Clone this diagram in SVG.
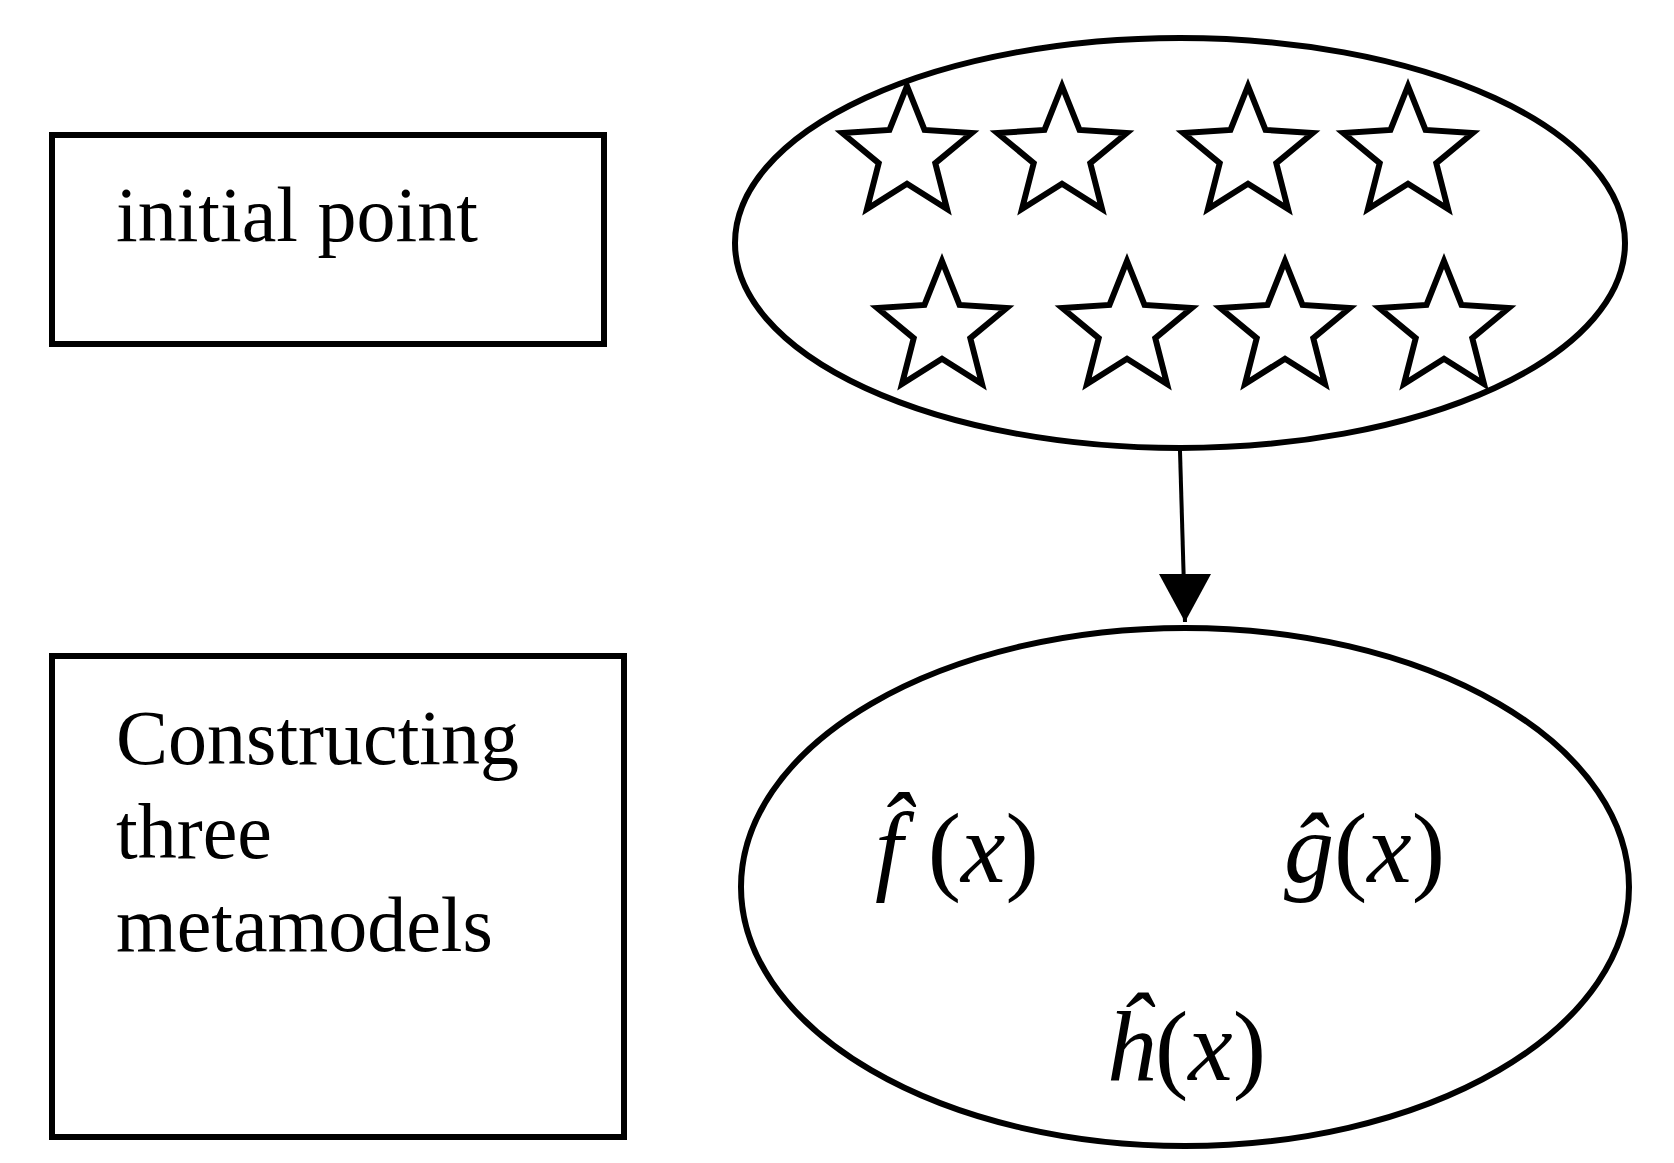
<svg xmlns="http://www.w3.org/2000/svg" xmlns:xlink="http://www.w3.org/1999/xlink" width="1674" height="1163" viewBox="0 0 1674 1163">
<style>
.b{fill:none;stroke:#000;stroke-width:6}
.t{font-family:"Liberation Serif",serif;font-size:78px;fill:#000}
.m{font-family:"Liberation Serif",serif;font-size:100px;fill:#000}
.s{fill:#fff;stroke:#000;stroke-width:6;stroke-linejoin:miter}
</style>
<defs>
<polygon id="star" class="s" points="0,-68 17.5,-24.1 64.7,-21 28.3,9.2 40,55 0,29.7 -40,55 -28.3,9.2 -64.7,-21 -17.5,-24.1"/>
</defs>
<rect width="1674" height="1163" fill="#fff"/>
<g id="n1"><rect class="b" x="52" y="135" width="552" height="209"/><text class="t" x="116" y="241">initial point</text></g>
<g id="n2"><ellipse class="b" cx="1180" cy="243" rx="445" ry="205"/>
<use xlink:href="#star" x="907" y="154"/><use xlink:href="#star" x="1062" y="154"/><use xlink:href="#star" x="1248" y="154"/><use xlink:href="#star" x="1408" y="154"/>
<use xlink:href="#star" x="942" y="329"/><use xlink:href="#star" x="1127" y="329"/><use xlink:href="#star" x="1285" y="329"/><use xlink:href="#star" x="1444" y="329"/>
</g>
<g id="n3"><rect class="b" x="52" y="656" width="572" height="481"/>
<text class="t"><tspan x="116" y="764">Constructing</tspan><tspan x="116" y="858">three</tspan><tspan x="116" y="951">metamodels</tspan></text></g>
<g id="n4"><ellipse class="b" cx="1185" cy="887" rx="444" ry="259"/>
<text class="m" x="875" y="882"><tspan font-style="italic">f̂</tspan> (<tspan font-style="italic">x</tspan>)</text>
<text class="m" x="1284" y="882"><tspan font-style="italic">ĝ</tspan>(<tspan font-style="italic">x</tspan>)</text>
<text class="m" x="1105" y="1080"><tspan font-style="italic">ĥ</tspan>(<tspan font-style="italic">x</tspan>)</text>
</g>
<g id="connectors"><line x1="1180" y1="451" x2="1185" y2="622" stroke="#000" stroke-width="4"/><path d="M1159,574 L1211,574 L1185,622 z"/></g>
</svg>
